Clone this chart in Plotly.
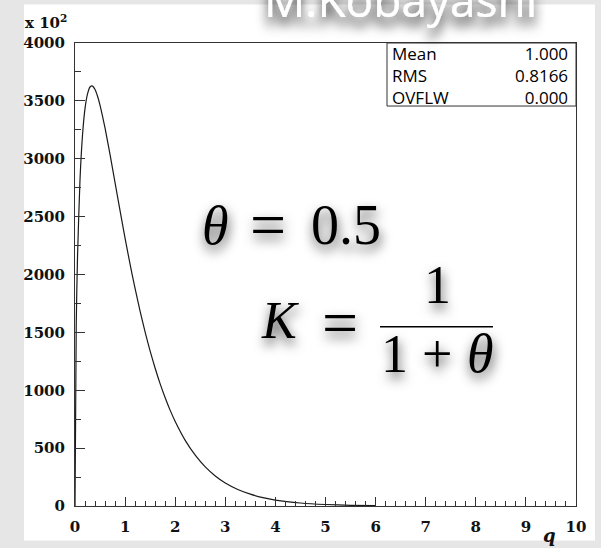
import json
import plotly.graph_objects as go

# Histogram contents along q (entries, in units of 10^2)
q_values = [0.0, 0.025, 0.05, 0.1, 0.15, 0.2, 0.25, 0.3, 0.35, 0.4, 0.45, 0.5, 0.6, 0.7, 0.8,
            0.9, 1.0, 1.1, 1.2, 1.3, 1.4, 1.5, 1.6, 1.7, 1.8, 1.9, 2.0, 2.2, 2.4, 2.6, 2.8,
            3.0, 3.25, 3.5, 3.75, 4.0, 4.5, 5.0, 5.5, 6.0]
counts = [0, 1580, 2150, 2820, 3205, 3435, 3560, 3620, 3628, 3598, 3540, 3462, 3264, 3035, 2792,
          2549, 2313, 2087, 1877, 1682, 1502, 1338, 1190, 1055, 935, 826, 730, 567, 439, 338, 260,
          199, 143, 102, 72, 51, 26, 13, 6, 3]

# Statistics box
stat_names = ["Mean", "RMS", "OVFLW"]
stat_values = ["1.000", "0.8166", "0.000"]

theta_value = "0.5"
author = "M.Kobayashi"

W, H = 601, 548
L, R, T, B = 75, 576, 43, 513


def px(x):
    return (x - L) / (R - L)


def py(y):
    return (B - y) / (B - T)


fig = go.Figure()
fig.add_trace(go.Scatter(
    x=q_values, y=counts, mode="lines",
    line=dict(color="#1a1a1a", width=1.2, shape="spline", smoothing=0.6),
    hoverinfo="skip", showlegend=False,
))

tick_font = dict(family="DejaVu Serif", size=15, color="#111", weight="bold")
axis_common = dict(
    showline=True, linecolor="#333", linewidth=1, mirror=True,
    ticks="inside", tickcolor="#333", tickwidth=1,
    showgrid=False, zeroline=False, tickfont=tick_font,
)

fig.update_xaxes(range=[0, 10], dtick=1, tick0=0, ticklen=9,
                 minor=dict(dtick=0.2, ticklen=5, ticks="inside", tickcolor="#333"),
                 ticklabelstandoff=7, **axis_common)
fig.update_yaxes(range=[0, 4000], dtick=500, tick0=0, ticklen=10,
                 minor=dict(dtick=250, ticklen=6, ticks="inside", tickcolor="#333"),
                 ticklabelstandoff=6, **axis_common)

shapes = [
    # white panel behind the frame
    dict(type="rect", xref="paper", yref="paper", x0=px(24), x1=px(595), y0=py(548), y1=py(4),
         fillcolor="white", line=dict(width=0), layer="below"),
    # statistics box
    dict(type="rect", xref="paper", yref="paper", x0=px(387), x1=px(576), y0=py(107), y1=py(43),
         fillcolor="white", line=dict(color="#333", width=1), layer="above"),
    # fraction bar
    dict(type="line", xref="paper", yref="paper", x0=px(380), x1=px(493), y0=py(331), y1=py(331),
         line=dict(color="black", width=1.6)),
]

annotations = []


def note(text, x, y, size, family, xanchor="center", color="black", align="center", **kw):
    annotations.append(dict(
        text=text, x=px(x), y=py(y), xref="paper", yref="paper",
        xanchor=xanchor, yanchor="middle", showarrow=False, align=align, borderpad=0,
        font=dict(family=family, size=size, color=color, **kw),
    ))
    return len(annotations) - 1


serif = "Liberation Serif"
note("x 10<sup>2</sup>", 24, 22, 15, "DejaVu Serif", xanchor="left", weight="bold", color="#111")
note("<i>q</i>", 549, 543, 18, "DejaVu Serif", weight="bold", color="#111")

# statistics box contents: names on the left, values on the right
note("<br>".join(stat_names), 391, 76, 17, "Open Sans", xanchor="left", align="left")
note("<br>".join(stat_values), 569, 76, 17, "Open Sans", xanchor="right", align="right")

shadowed = []
shadowed.append(note("<i>θ</i>", 215, 229, 54, serif))
shadowed.append(note("=", 268, 227, 64, serif))
shadowed.append(note(theta_value, 346, 228, 56, serif))
shadowed.append(note("<i>K</i>", 280, 325, 52, serif))
shadowed.append(note("=", 340, 327, 64, serif))
shadowed.append(note("1", 437, 289, 54, serif))
shadowed.append(note("1", 394, 359, 54, serif))
shadowed.append(note("+", 437, 359, 54, serif))
shadowed.append(note("<i>θ</i>", 480, 359, 54, serif))

author_idx = note(author, 400, -2, 46, "Open Sans", color="white")

fig.update_layout(
    width=W, height=H,
    margin=dict(l=L, r=W - R, t=T, b=H - B, pad=0),
    paper_bgcolor="#e6e6e6", plot_bgcolor="white",
    shapes=shapes, annotations=annotations,
)

post = """
var gd = document.getElementById('{plot_id}');
var ns = 'http://www.w3.org/2000/svg';
var defs = gd.querySelector('svg.main-svg defs');
function mk(id, dx, dy, blur, op) {
  var f = document.createElementNS(ns, 'filter');
  f.setAttribute('id', id);
  f.setAttribute('x', '-60%'); f.setAttribute('y', '-80%');
  f.setAttribute('width', '220%'); f.setAttribute('height', '260%');
  var g = document.createElementNS(ns, 'feGaussianBlur');
  g.setAttribute('in', 'SourceAlpha'); g.setAttribute('stdDeviation', blur);
  var o = document.createElementNS(ns, 'feOffset');
  o.setAttribute('dx', dx); o.setAttribute('dy', dy); o.setAttribute('result', 'b');
  var fl = document.createElementNS(ns, 'feFlood');
  fl.setAttribute('flood-color', '#000'); fl.setAttribute('flood-opacity', op);
  var c = document.createElementNS(ns, 'feComposite');
  c.setAttribute('in2', 'b'); c.setAttribute('operator', 'in');
  var m = document.createElementNS(ns, 'feMerge');
  var m1 = document.createElementNS(ns, 'feMergeNode');
  var m2 = document.createElementNS(ns, 'feMergeNode');
  m2.setAttribute('in', 'SourceGraphic');
  m.appendChild(m1); m.appendChild(m2);
  [g, o, fl, c, m].forEach(function (e) { f.appendChild(e); });
  defs.appendChild(f);
}
mk('formulaShadow', 1, 6, 6, 0.75);
mk('authorShadow', 0, 9, 6, 0.9);
var shadowed = SHADOWED;
var authorIdx = AUTHOR;
gd.querySelectorAll('g.annotation').forEach(function (g) {
  var i = +g.getAttribute('data-index');
  var t = g.querySelector('text');
  if (!t) return;
  if (shadowed.indexOf(i) >= 0) t.setAttribute('filter', 'url(#formulaShadow)');
  if (i === authorIdx) t.setAttribute('filter', 'url(#authorShadow)');
});
""".replace("SHADOWED", json.dumps(shadowed)).replace("AUTHOR", str(author_idx))

fig.write_html("out.html", post_script=post, config=dict(displayModeBar=False))
